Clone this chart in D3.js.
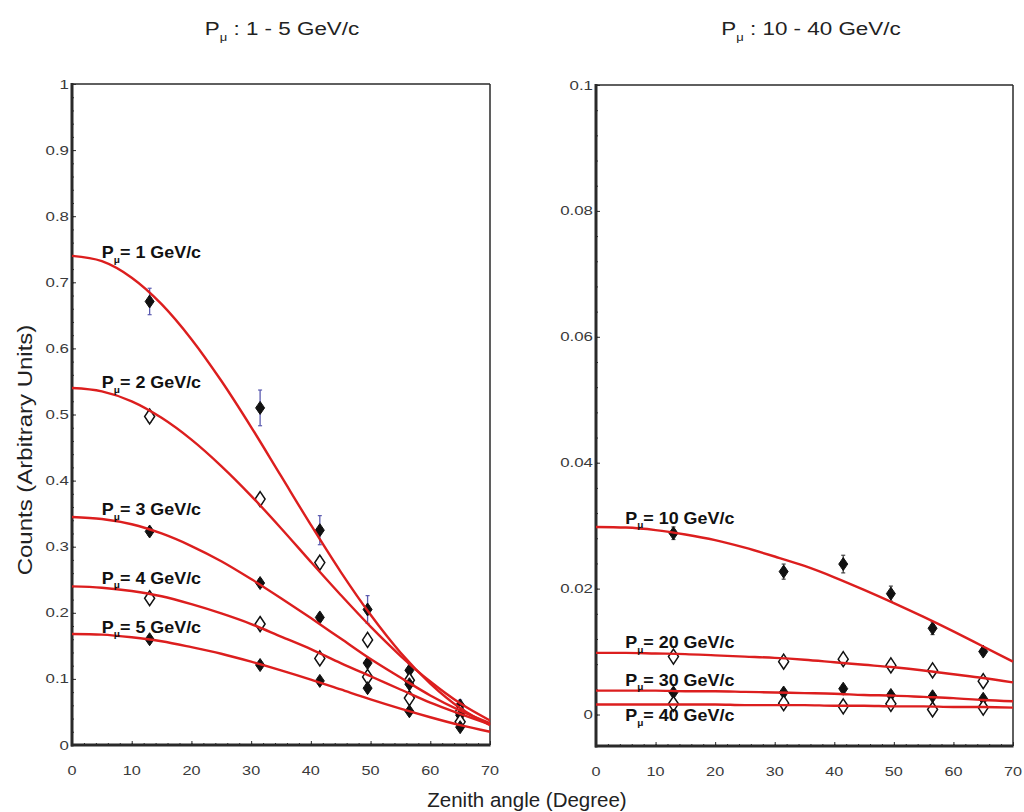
<!DOCTYPE html>
<html>
<head>
<meta charset="utf-8">
<script src="https://cdn.jsdelivr.net/npm/d3@7/dist/d3.min.js"></script>
<style>
  html, body { margin: 0; padding: 0; background: #fff; }
  svg { display: block; font-family: "Liberation Sans", Arial, Helvetica, sans-serif; }
</style>
</head>
<body>
<svg id="chart" width="1024" height="812"></svg>
<script>
// Zenith angles of the measured bins (degrees)
const angles = [13, 31.5, 41.5, 49.5, 56.5, 65];
// Angles at which the fitted curves are tabulated
const fitAngles = [0, 5, 10, 15, 20, 25, 30, 35, 40, 45, 50, 55, 60, 65, 70];

// Low momentum panel: measured counts, errors and fitted curves
const counts1GeV = [0.671, 0.510, 0.325, 0.205, 0.113, 0.060];
const err1GeV    = [0.020, 0.027, 0.022, 0.021, 0.010, 0.008];
const counts2GeV = [0.497, 0.372, 0.276, 0.159, 0.098, 0.050];
const err2GeV    = [0.008, 0.008, 0.008, 0.006, 0.005, 0.004];
const counts3GeV = [0.323, 0.245, 0.193, 0.124, 0.092, 0.045];
const err3GeV    = [0.006, 0.006, 0.006, 0.005, 0.004, 0.004];
const counts4GeV = [0.222, 0.183, 0.131, 0.103, 0.071, 0.035];
const err4GeV    = [0.005, 0.005, 0.005, 0.004, 0.004, 0.003];
const counts5GeV = [0.160, 0.121, 0.097, 0.086, 0.051, 0.027];
const err5GeV    = [0.005, 0.005, 0.004, 0.004, 0.004, 0.003];

const fit1GeV = [0.740, 0.732, 0.707, 0.667, 0.614, 0.551, 0.481, 0.407, 0.333, 0.262, 0.197, 0.140, 0.093, 0.056, 0.030];
const fit2GeV = [0.540, 0.535, 0.520, 0.495, 0.462, 0.422, 0.377, 0.328, 0.277, 0.227, 0.179, 0.135, 0.096, 0.063, 0.037];
const fit3GeV = [0.345, 0.342, 0.334, 0.320, 0.301, 0.278, 0.251, 0.222, 0.192, 0.161, 0.130, 0.102, 0.075, 0.052, 0.033];
const fit4GeV = [0.240, 0.238, 0.233, 0.225, 0.213, 0.199, 0.183, 0.164, 0.145, 0.124, 0.104, 0.084, 0.064, 0.047, 0.031];
const fit5GeV = [0.168, 0.167, 0.163, 0.157, 0.148, 0.138, 0.126, 0.113, 0.099, 0.084, 0.069, 0.055, 0.042, 0.030, 0.020];

// High momentum panel
const counts10GeV = [0.0288, 0.0227, 0.0239, 0.0192, 0.0137, 0.0100];
const err10GeV    = [0.0010, 0.0012, 0.0014, 0.0012, 0.0010, 0.0006];
const counts20GeV = [0.0092, 0.0084, 0.0088, 0.0078, 0.0070, 0.0053];
const err20GeV    = [0.0004, 0.0004, 0.0004, 0.0004, 0.0004, 0.0004];
const counts30GeV = [0.0035, 0.0035, 0.0041, 0.0031, 0.0029, 0.0025];
const err30GeV    = [0.0003, 0.0003, 0.0003, 0.0003, 0.0003, 0.0003];
const counts40GeV = [0.0017, 0.0018, 0.0013, 0.0017, 0.0008, 0.0011];
const err40GeV    = [0.0003, 0.0003, 0.0003, 0.0003, 0.0003, 0.0003];

const fit10GeV = [0.0298, 0.0297, 0.0293, 0.0286, 0.0277, 0.0265, 0.0251, 0.0236, 0.0218, 0.0198, 0.0177, 0.0155, 0.0132, 0.0108, 0.0084];
const fit20GeV = [0.0098, 0.0098, 0.0097, 0.0096, 0.0094, 0.0092, 0.0090, 0.0087, 0.0083, 0.0079, 0.0075, 0.0070, 0.0064, 0.0058, 0.0051];
const fit30GeV = [0.0038, 0.0038, 0.0038, 0.0037, 0.0037, 0.0036, 0.0035, 0.0034, 0.0033, 0.0031, 0.0030, 0.0028, 0.0026, 0.0023, 0.0021];
const fit40GeV = [0.0016, 0.0016, 0.0016, 0.0016, 0.0016, 0.0015, 0.0015, 0.0015, 0.0014, 0.0014, 0.0013, 0.0013, 0.0012, 0.0012, 0.0011];

const leftYTicks  = [0, 0.1, 0.2, 0.3, 0.4, 0.5, 0.6, 0.7, 0.8, 0.9, 1];
const rightYTicks = [0, 0.02, 0.04, 0.06, 0.08, 0.1];
const xTicks = [0, 10, 20, 30, 40, 50, 60, 70];

const leftSeries = [
  { p: "1",  counts: counts1GeV, err: err1GeV, fit: fit1GeV, open: false, errColor: "#5b5bb0", dy: -3 },
  { p: "2",  counts: counts2GeV, err: err2GeV, fit: fit2GeV, open: true,  errColor: "#333", dy: -3 },
  { p: "3",  counts: counts3GeV, err: err3GeV, fit: fit3GeV, open: false, errColor: "#333", dy: -4 },
  { p: "4",  counts: counts4GeV, err: err4GeV, fit: fit4GeV, open: true,  errColor: "#333", dy: -4 },
  { p: "5",  counts: counts5GeV, err: err5GeV, fit: fit5GeV, open: false, errColor: "#333", dy: -2 }
];
const rightSeries = [
  { p: "10", counts: counts10GeV, err: err10GeV, fit: fit10GeV, open: false, errColor: "#444", dy: -4 },
  { p: "20", counts: counts20GeV, err: err20GeV, fit: fit20GeV, open: true,  errColor: "#444", dy: -5 },
  { p: "30", counts: counts30GeV, err: err30GeV, fit: fit30GeV, open: false, errColor: "#444", dy: -5 },
  { p: "40", counts: counts40GeV, err: err40GeV, fit: fit40GeV, open: true,  errColor: "#444", dy: 17 }
];

const svg = d3.select("#chart");
const RED = "#dc1e1e";
const AXIS = "#2a2a2a";

// Text placed at (x, y) and widened horizontally by sx (the figure uses a wide typeface)
function wideText(parent, x, y, sx, size, anchor) {
  return parent.append("text")
    .attr("transform", `translate(${x},${y}) scale(${sx},1)`)
    .attr("font-size", size).attr("text-anchor", anchor || "start");
}

function subscriptText(sel, before, after, size, subSize) {
  sel.append("tspan").text(before);
  sel.append("tspan").attr("font-size", subSize).attr("dy", size * 0.3).text("\u03bc");
  sel.append("tspan").attr("dy", -size * 0.3).text(after);
}

function drawPanel(opts) {
  const { x0, x1, yTop, yBot, yDomain, yTicks, yMinor, series, labelAngle, title, titleX } = opts;
  const x = d3.scaleLinear().domain([0, 70]).range([x0, x1]);
  const y = d3.scaleLinear().domain(yDomain).range([yBot, yTop]);
  const g = svg.append("g");

  // frame: top and right edges thin, left and bottom spines heavy
  g.append("line").attr("x1", x0).attr("x2", x1).attr("y1", yTop).attr("y2", yTop)
    .attr("stroke", AXIS).attr("stroke-width", 1.5);
  g.append("line").attr("x1", x1).attr("x2", x1).attr("y1", yTop).attr("y2", yBot)
    .attr("stroke", AXIS).attr("stroke-width", 1.5);

  // y axis with inward ticks
  const yAxis = d3.axisRight(y).tickValues(yTicks).tickSize(4).tickFormat(() => "");
  g.append("g").attr("transform", `translate(${x0},0)`).call(yAxis)
    .call(s => s.select(".domain").remove())
    .call(s => s.selectAll("line").attr("stroke", AXIS).attr("stroke-width", 1));
  const yMinorAxis = d3.axisRight(y).tickValues(yMinor).tickSize(2).tickFormat(() => "");
  g.append("g").attr("transform", `translate(${x0},0)`).call(yMinorAxis)
    .call(s => s.select(".domain").remove())
    .call(s => s.selectAll("line").attr("stroke", AXIS).attr("stroke-width", 1));
  yTicks.forEach(d => {
    wideText(g, x0 - 3, y(d) + 4.5, 1.35, 12.5, "end").attr("fill", "#3a3a3a").text(String(d));
  });

  // x axis with inward ticks
  const xAxis = d3.axisTop(x).tickValues(xTicks).tickSize(4).tickFormat(() => "");
  g.append("g").attr("transform", `translate(0,${yBot})`).call(xAxis)
    .call(s => s.select(".domain").remove())
    .call(s => s.selectAll("line").attr("stroke", AXIS).attr("stroke-width", 1));
  const xMinorAxis = d3.axisTop(x).tickValues(d3.range(0, 71, 2)).tickSize(2).tickFormat(() => "");
  g.append("g").attr("transform", `translate(0,${yBot})`).call(xMinorAxis)
    .call(s => s.select(".domain").remove())
    .call(s => s.selectAll("line").attr("stroke", AXIS).attr("stroke-width", 1));
  xTicks.forEach(d => {
    wideText(g, x(d), yBot + 30, 1.3, 12.5, "middle").attr("fill", "#3a3a3a").text(String(d));
  });

  g.append("line").attr("x1", x0).attr("x2", x0).attr("y1", yTop - 1).attr("y2", yBot + 1.5)
    .attr("stroke", AXIS).attr("stroke-width", 3);
  g.append("line").attr("x1", x0 - 1).attr("x2", x1 + 0.5).attr("y1", yBot).attr("y2", yBot)
    .attr("stroke", AXIS).attr("stroke-width", 3);

  // measured points with error bars
  series.forEach(s => {
    const pts = angles.map((a, i) => ({ a, v: s.counts[i], e: s.err[i] }));
    const eb = g.append("g");
    eb.selectAll("line.bar").data(pts).join("line")
      .attr("x1", d => x(d.a)).attr("x2", d => x(d.a))
      .attr("y1", d => y(d.v - d.e)).attr("y2", d => y(d.v + d.e))
      .attr("stroke", s.errColor).attr("stroke-width", 1.3);
    eb.selectAll("line.capTop").data(pts).join("line")
      .attr("x1", d => x(d.a) - 2).attr("x2", d => x(d.a) + 2)
      .attr("y1", d => y(d.v + d.e)).attr("y2", d => y(d.v + d.e))
      .attr("stroke", s.errColor).attr("stroke-width", 1.2);
    eb.selectAll("line.capBot").data(pts).join("line")
      .attr("x1", d => x(d.a) - 2).attr("x2", d => x(d.a) + 2)
      .attr("y1", d => y(d.v - d.e)).attr("y2", d => y(d.v - d.e))
      .attr("stroke", s.errColor).attr("stroke-width", 1.2);
    const w = s.open ? 5 : 4.5, h = s.open ? 7.5 : 6.5;
    g.append("g").selectAll("path").data(pts).join("path")
      .attr("transform", d => `translate(${x(d.a)},${y(d.v)})`)
      .attr("d", `M0,${-h}L${w},0L0,${h}L${-w},0Z`)
      .attr("fill", s.open ? "#fff" : "#111")
      .attr("stroke", "#111").attr("stroke-width", s.open ? 1.5 : 1);
  });

  // fitted curves
  const line = d3.line().x(d => x(d[0])).y(d => y(d[1])).curve(d3.curveMonotoneX);
  series.forEach(s => {
    g.append("path").datum(fitAngles.map((a, i) => [a, s.fit[i]]))
      .attr("d", line).attr("fill", "none")
      .attr("stroke", RED).attr("stroke-width", 2.4);
  });

  // curve labels
  series.forEach(s => {
    const t = wideText(g, x(labelAngle), y(s.fit[1]) + s.dy, 1.12, 16)
      .attr("font-weight", "bold").attr("fill", "#111");
    subscriptText(t, "P", "= " + s.p + " GeV/c", 16, 9);
  });

  // panel title
  const tt = wideText(svg, titleX, 35, 1.18, 19, "middle").attr("fill", "#222");
  subscriptText(tt, "P", " : " + title, 19, 11);
}

drawPanel({
  x0: 72, x1: 490, yTop: 84, yBot: 745, yDomain: [0, 1],
  yTicks: leftYTicks, yMinor: d3.range(0, 1.001, 0.02),
  series: leftSeries, labelAngle: 5, title: "1 - 5 GeV/c", titleX: 282
});
drawPanel({
  x0: 596, x1: 1013, yTop: 85, yBot: 746, yDomain: [-0.005, 0.1],
  yTicks: rightYTicks, yMinor: d3.range(0, 0.1001, 0.004),
  series: rightSeries, labelAngle: 4.9, title: "10 - 40 GeV/c", titleX: 811
});

// shared axis titles
svg.append("text").attr("x", 527).attr("y", 807).attr("text-anchor", "middle")
  .attr("font-size", 20.5).attr("fill", "#222").text("Zenith angle (Degree)");
svg.append("text").attr("transform", "translate(32,450) rotate(-90) scale(1.2,1)").attr("text-anchor", "middle")
  .attr("font-size", 20).attr("fill", "#222").text("Counts (Arbitrary Units)");
</script>
</body>
</html>
